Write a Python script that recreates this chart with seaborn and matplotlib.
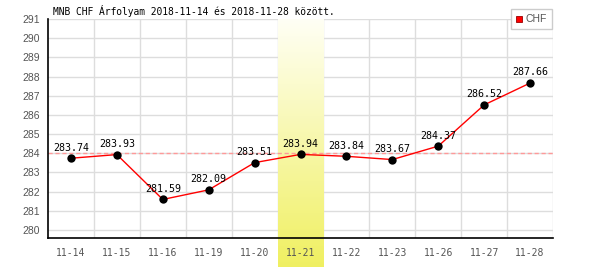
import matplotlib
matplotlib.use("Agg")
import matplotlib.pyplot as plt
import seaborn as sns
import numpy as np
import pandas as pd
from matplotlib.patches import Rectangle
from matplotlib.lines import Line2D

dates = ["11-14", "11-15", "11-16", "11-19", "11-20", "11-21", "11-22", "11-23", "11-26", "11-27", "11-28"]
rates = [283.74, 283.93, 281.59, 282.09, 283.51, 283.94, 283.84, 283.67, 284.37, 286.52, 287.66]
yticks = list(range(280, 292))
highlight = "11-21"
ref_level = 284
title = "MNB CHF Árfolyam 2018-11-14 és 2018-11-28 között."

df = pd.DataFrame({"date": dates, "rate": rates, "x": np.arange(len(dates))})

sns.set_style("white")
plt.rcParams["font.family"] = ["DejaVu Sans Mono", "DejaVu Sans"]

fig = plt.figure(figsize=(6, 2.7), dpi=100)
ax = fig.add_axes([48/600, 1-238/270, (553-48)/600, (238-19)/270])

n = len(dates)
ax.set_xlim(-0.5, n - 0.5)
ax.set_ylim(279.58, 291.0)

# grid
for v in yticks:
    ax.axhline(v, color="#dddddd", lw=1, zorder=0)
for i in range(n):
    ax.axvline(i + 0.5, color="#dddddd", lw=1, zorder=0)

# highlight column with gradient
hi = dates.index(highlight)
grad = np.linspace(0, 1, 256).reshape(-1, 1)
top = np.array([1.0, 1.0, 0.96])
bot = np.array([0.94, 0.94, 0.38])
img = top + (bot - top) * grad[..., None].reshape(256, 1, 1)
img = img.reshape(256, 1, 3)
ybot_ax = -(267 - 238) / (238 - 19)
ax.imshow(img, extent=(hi - 0.5, hi + 0.5, ybot_ax, 1.0), aspect="auto",
          transform=ax.get_xaxis_transform(), zorder=0.5, clip_on=False)

ax.axhline(ref_level, color="#ff9999", lw=1, ls=(0, (3, 2)), zorder=1)

sns.lineplot(data=df, x="x", y="rate", ax=ax, color="red", lw=1, zorder=2)
sns.scatterplot(data=df, x="x", y="rate", ax=ax, color="black", s=36, zorder=3,
                edgecolor="black", linewidth=0)

for xi, yi in zip(df["x"], df["rate"]):
    ax.annotate(f"{yi:.2f}", (xi, yi), xytext=(0, 4), textcoords="offset points",
                ha="center", va="bottom", fontsize=7.2, color="black", zorder=4)

ax.set_xticks(df["x"])
ax.set_xticklabels(dates, fontsize=7, color="#555555")
ax.set_yticks(yticks)
ax.set_yticklabels([str(v) for v in yticks], fontsize=7.5, color="#555555",
                   family="Liberation Sans")
ax.tick_params(axis="both", length=0)
ax.tick_params(axis="y", pad=6)
ax.tick_params(axis="x", pad=7)
ax.set_xlabel("")
ax.set_ylabel("")

for s in ["top", "right"]:
    ax.spines[s].set_visible(False)
for s in ["left", "bottom"]:
    ax.spines[s].set_color("black")
    ax.spines[s].set_linewidth(1.2)
ax.spines["bottom"].set_zorder(5)

fig.text(53/600, 1-15/270, title, fontsize=6.9, color="black", ha="left", va="baseline")

# legend
leg_box = Rectangle((511/600, 1-29/270), 41/600, 20/270, transform=fig.transFigure,
                    facecolor="white", edgecolor="#cccccc", lw=1)
fig.patches.append(leg_box)
sq = Rectangle((516/600, 1-22/270), 6/600, 6/270, transform=fig.transFigure,
               facecolor="red", edgecolor="#990000", lw=0.6)
fig.patches.append(sq)
fig.text(525/600, 1-19.5/270, "CHF", fontsize=7.5, color="#555555",
         family="Liberation Sans", ha="left", va="center")

fig.savefig("out.png", dpi=100)
